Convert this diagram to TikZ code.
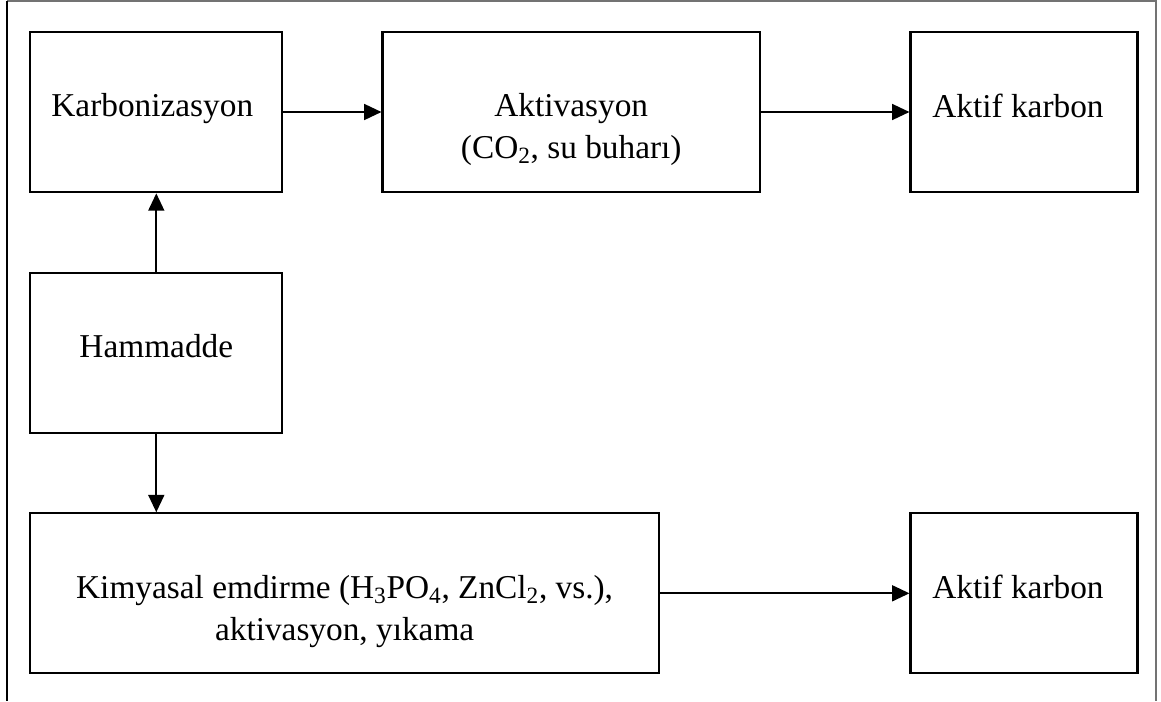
\documentclass[tikz,border=0pt]{standalone}
\usepackage{fontspec}
\setmainfont{Liberation Serif}
\usetikzlibrary{arrows.meta}
\begin{document}
\begin{tikzpicture}[x=0.75pt,y=-0.75pt,
  box/.style={draw=black, line width=1.6pt, inner sep=0pt, fill=white},
  txt/.style={inner sep=0pt, anchor=north, align=center, font=\fontsize{25}{31.5}\selectfont},
  conn/.style={draw=black, line width=1.25pt, -{Triangle[length=13pt,width=12pt]}},
  frameline/.style={line width=0.8pt}]
\useasboundingbox (0,0) rectangle (1161,701);
% outer frame (open at the bottom)
\draw[frameline, black!55] (7,1) -- (1156,1) -- (1156,701);
\draw[frameline, black] (7,1) -- (7,701);
% boxes
\node[box, minimum width=189pt, minimum height=120.45pt] (karb) at (156.3,112) {};
\node[box, minimum width=283.1pt, minimum height=120.45pt] (akt) at (571.25,112) {};
\node[box, minimum width=170.25pt, minimum height=120.45pt] (ak1) at (1024,112) {};
\node[box, minimum width=189pt, minimum height=120.25pt] (ham) at (156.3,352.85) {};
\node[box, minimum width=471.5pt, minimum height=120pt] (kim) at (344.65,593.3) {};
\node[box, minimum width=170.25pt, minimum height=120pt] (ak2) at (1024,593.3) {};
% texts
\node[txt] (karbT) at ([xshift=-3pt,yshift=-47pt]karb.north) {Karbonizasyon};
\node[txt] (aktT) at ([yshift=-47pt]akt.north) {Aktivasyon\\(CO\textsubscript{2}, su buharı)};
\node[txt] (ak1T) at ([xshift=-4.5pt,yshift=-47pt]ak1.north) {Aktif karbon};
\node[txt] (hamT) at ([yshift=-47pt]ham.north) {Hammadde};
\node[txt] (kimT) at ([yshift=-47pt]kim.north) {Kimyasal emdirme (H\textsubscript{3}PO\textsubscript{4}, ZnCl\textsubscript{2}, vs.),\\aktivasyon, yıkama};
\node[txt] (ak2T) at ([xshift=-4.5pt,yshift=-47pt]ak2.north) {Aktif karbon};
% connectors
\draw[conn] (karb.east) -- (akt.west);
\draw[conn] (akt.east) -- (ak1.west);
\draw[conn] (ham.north) -- (karb.south);
\draw[conn] (ham.south) -- (ham.south |- kim.north);
\draw[conn] (kim.east) -- (ak2.west);
\end{tikzpicture}
\end{document}
